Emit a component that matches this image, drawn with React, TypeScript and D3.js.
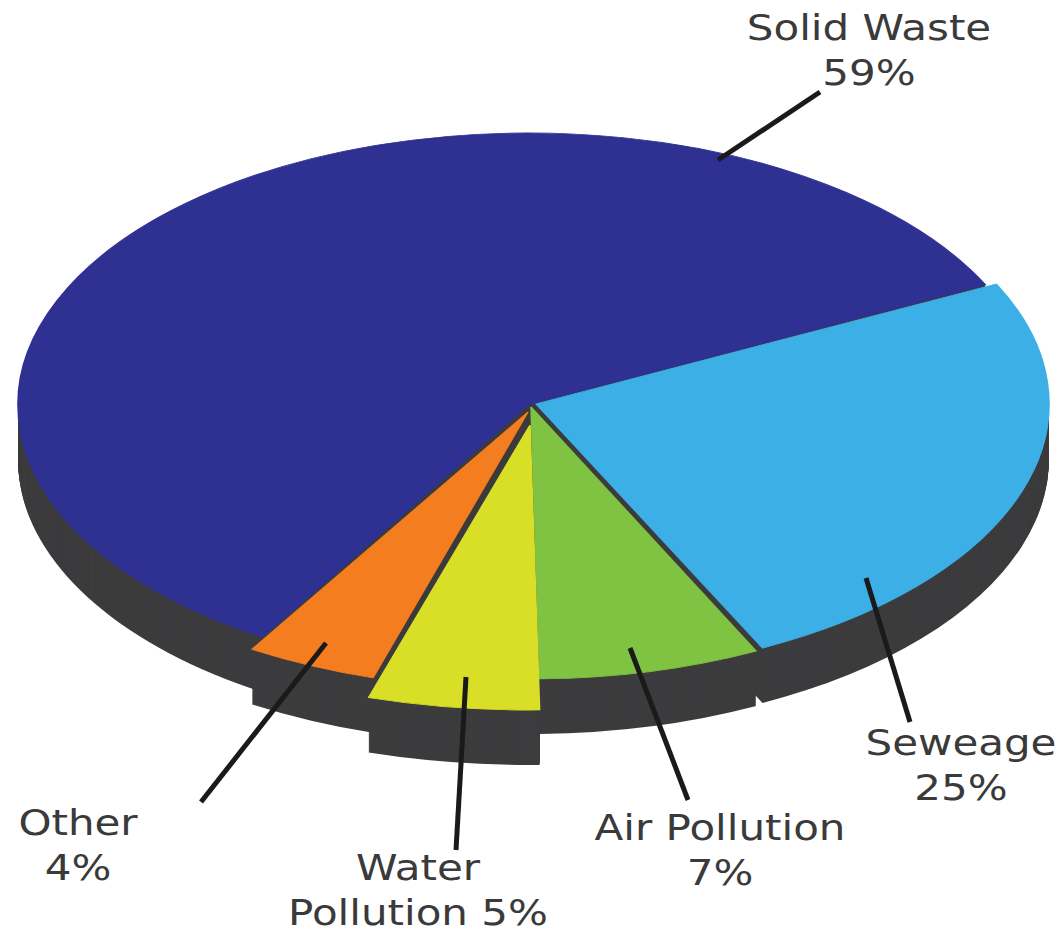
import React from "react";
import * as d3 from "d3";

const width = 1063;
const height = 934;

// clockwise, starting at the Seweage / Solid Waste boundary
const categories = ["Seweage", "Air Pollution", "Water Pollution", "Other", "Solid Waste"];
const shares = [25, 7, 5, 4, 59];
const colors = ["#3cb0e6", "#80c241", "#d9de27", "#f47d20", "#2e3192"];
const sideColor = "#3c3c3e";
const textColor = "#3a3a3a";

// where each exploded slice sits: centre and radii of its ellipse
const sliceCx = [536, 531, 530, 528, 528];
const sliceCy = [404, 407, 425, 412, 405];
const sliceRx = [513, 510, 552, 530, 510];
const sliceRy = [272, 272, 285, 278, 272];
const drawOrder = [4, 0, 3, 1, 2];
const depth = 55;
const startDeg = 63.8;

const labelLines = [
  ["Seweage", "25%"],
  ["Air Pollution", "7%"],
  ["Water", "Pollution 5%"],
  ["Other", "4%"],
  ["Solid Waste", "59%"],
];
const labelX = [961, 720, 418, 78, 869];
const labelY = [755, 840, 880, 835, 40];
const labelStretch = 1.2; // the labels are wider than DejaVu Sans
const leaderFrom = [
  [866, 578],
  [630, 648],
  [466, 677],
  [326, 643],
  [718, 160],
];
const leaderTo = [
  [910, 722],
  [688, 800],
  [456, 850],
  [201, 802],
  [820, 92],
];

export default function App() {
  const start = (startDeg * Math.PI) / 180;
  const pie = d3
    .pie<number>()
    .sort(null)
    .startAngle(start)
    .endAngle(start + 2 * Math.PI);
  const slices = pie(shares);
  const steps = d3.range(depth, 0, -1);

  return (
    <svg
      width={width}
      height={height}
      style={{ position: "absolute", left: 0, top: 0, background: "#fff" }}
    >
      {drawOrder.map((i) => {
        const arc = d3.arc<any>().innerRadius(0).outerRadius(sliceRx[i]);
        const d = arc(slices[i]) as string;
        const sy = sliceRy[i] / sliceRx[i];
        return (
          <g key={categories[i]}>
            {/* side wall: the slice repeated downwards */}
            {steps.map((s) => (
              <path
                key={s}
                d={d}
                fill={sideColor}
                transform={`translate(${sliceCx[i]},${sliceCy[i] + s}) scale(1,${sy})`}
              />
            ))}
            <path
              d={d}
              fill={colors[i]}
              stroke={colors[i]}
              strokeWidth={1.5}
              transform={`translate(${sliceCx[i]},${sliceCy[i]}) scale(1,${sy})`}
            />
          </g>
        );
      })}
      {categories.map((c, i) => (
        <line
          key={c}
          x1={leaderFrom[i][0]}
          y1={leaderFrom[i][1]}
          x2={leaderTo[i][0]}
          y2={leaderTo[i][1]}
          stroke="#1a1a1a"
          strokeWidth={5}
        />
      ))}
      {labelLines.map((lines, i) =>
        lines.map((t, j) => (
          <text
            key={t}
            transform={`translate(${labelX[i]},${labelY[i] + j * 45}) scale(${labelStretch},1)`}
            textAnchor="middle"
            fontFamily="'DejaVu Sans', sans-serif"
            fontSize={35}
            fill={textColor}
          >
            {t}
          </text>
        ))
      )}
    </svg>
  );
}
